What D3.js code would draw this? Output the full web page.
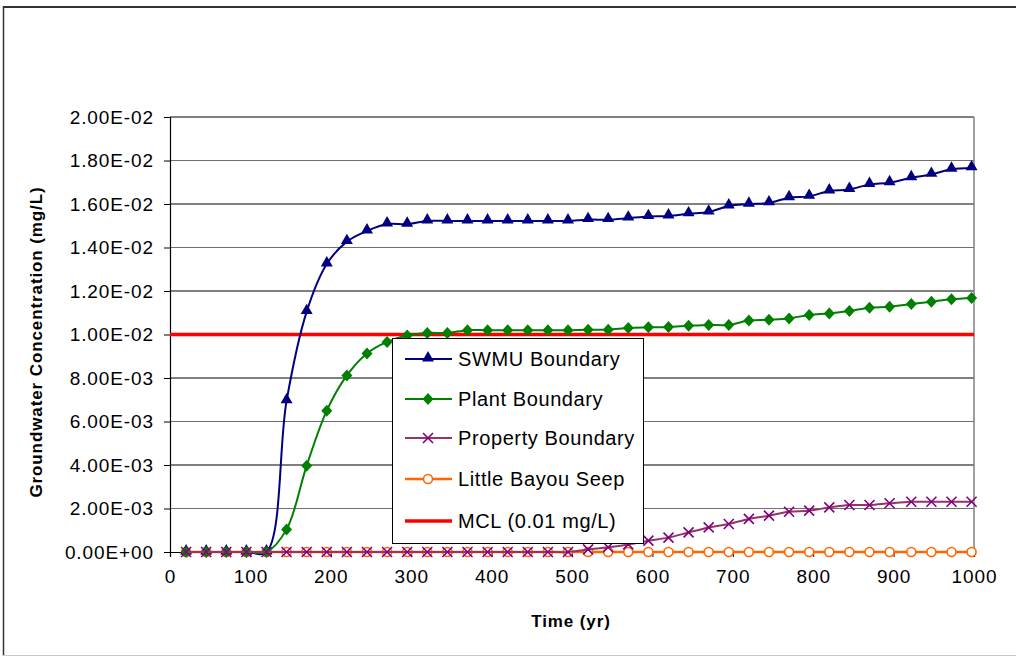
<!DOCTYPE html>
<html><head><meta charset="utf-8">
<script src="https://cdn.jsdelivr.net/npm/d3@7/dist/d3.min.js"></script>
<style>body{margin:0;background:#fff}svg{display:block;font-family:"Liberation Sans",Arial,sans-serif}</style>
</head><body>
<svg id="c" width="1016" height="656"></svg>
<script>
const times = [20,45,70,95,120,145,170,195,220,245,270,295,320,345,370,395,420,445,470,495,
  520,545,570,595,620,645,670,695,720,745,770,795,820,845,870,895,922,947,972,997];
const swmu = [0,0,0,0,0,6.95,11.05,13.24,14.27,14.76,15.08,15.07,15.22,15.22,15.22,15.22,15.22,15.22,15.22,15.22,
  15.28,15.28,15.35,15.42,15.45,15.55,15.63,15.91,15.99,16.05,16.29,16.35,16.6,16.67,16.9,16.98,17.21,17.36,17.6,17.66].map(v=>v*1e-3);
const plant = [0,0,0,0,0,1.04,3.97,6.5,8.12,9.13,9.66,9.95,10.07,10.07,10.2,10.2,10.2,10.2,10.2,10.2,
  10.22,10.22,10.3,10.33,10.35,10.4,10.44,10.44,10.64,10.68,10.74,10.9,10.97,11.08,11.23,11.28,11.4,11.51,11.62,11.68].map(v=>v*1e-3);
const property = [0,0,0,0,0,0,0,0,0,0,0,0,0,0,0,0,0,0,0,0,
  0.12,0.22,0.35,0.52,0.66,0.9,1.13,1.29,1.52,1.67,1.85,1.9,2.05,2.16,2.16,2.24,2.31,2.31,2.31,2.31].map(v=>v*1e-3);
const seep = times.map(()=>0);
const mclTimes = [0,1000];
const mclValues = [0.01,0.01];
const seriesNames = ["SWMU Boundary","Plant Boundary","Property Boundary","Little Bayou Seep","MCL (0.01 mg/L)"];
const xTicks = [0,100,200,300,400,500,600,700,800,900,1000];
const yTicks = [0,0.002,0.004,0.006,0.008,0.010,0.012,0.014,0.016,0.018,0.020];
const xTitle = "Time (yr)";
const yTitle = "Groundwater Concentration (mg/L)";

const svg = d3.select("#c");
const L=170, R=974, T=117, B=552;
const x = d3.scaleLinear().domain([0,1000]).range([L,R]);
const y = d3.scaleLinear().domain([0,0.02]).range([B,T]);

// chart area border
svg.append("line").attr("x1",3).attr("x2",1016).attr("y1",7).attr("y2",7).attr("stroke","#333").attr("stroke-width",2);
svg.append("line").attr("x1",3.5).attr("x2",3.5).attr("y1",6).attr("y2",656).attr("stroke","#333").attr("stroke-width",1.5);
svg.append("line").attr("x1",3).attr("x2",1016).attr("y1",655.5).attr("y2",655.5).attr("stroke","#c8c8c8").attr("stroke-width",1);

// gridlines
svg.append("g").selectAll("line").data(yTicks.slice(1)).join("line")
  .attr("x1",L).attr("x2",R).attr("y1",d=>y(d)).attr("y2",d=>y(d))
  .attr("stroke",(d,i)=> i%2===0 ? "#707070" : "#000").attr("stroke-width",1);
// right border
svg.append("line").attr("x1",R).attr("x2",R).attr("y1",T).attr("y2",B).attr("stroke","#808080").attr("stroke-width",1.5);

// axes
const fmt = v => {
  let s = v.toExponential(2);
  let [m,e] = s.split("e");
  const sign = e[0]==="-" ? "-" : "+";
  e = e.replace(/[+-]/,"");
  if (e.length<2) e = "0"+e;
  return m+"E"+sign+e;
};
const yAxis = svg.append("g").attr("transform",`translate(${L},0)`)
  .call(d3.axisLeft(y).tickValues(yTicks).tickFormat(fmt).tickSize(6).tickPadding(10));
const xAxis = svg.append("g").attr("transform",`translate(0,${B})`)
  .call(d3.axisBottom(x).tickValues(xTicks).tickFormat(d3.format("d")).tickSize(5).tickPadding(13));
[yAxis,xAxis].forEach(a=>{
  a.select(".domain").attr("stroke","#000").attr("stroke-width",1.2);
  a.selectAll(".tick line").attr("stroke","#000");
  a.selectAll("text").attr("font-size",19).attr("fill","#000").style("letter-spacing","0.9px")
   .attr("font-family","'Liberation Sans',Arial,sans-serif");
});

// titles
svg.append("text").attr("x",571).attr("y",627).attr("text-anchor","middle")
  .attr("font-size",17).attr("font-weight","bold").style("letter-spacing","0.9px").text(xTitle);
svg.append("text").attr("transform","translate(42,342) rotate(-90)").attr("text-anchor","middle")
  .attr("font-size",17).attr("font-weight","bold").style("letter-spacing","0.9px").text(yTitle);

const line = d3.line().x(d=>x(d[0])).y(d=>y(d[1])).curve(d3.curveCatmullRom.alpha(0.5));
const zip = (ts,vs)=>ts.map((t,i)=>[t,vs[i]]);

// MCL line
svg.append("path").datum(zip(mclTimes,mclValues)).attr("d",d3.line().x(d=>x(d[0])).y(d=>y(d[1])))
  .attr("fill","none").attr("stroke","#ff0000").attr("stroke-width",3.5);

const triangle = d3.symbol().type(d3.symbolTriangle).size(62)();
const diamond = d => `M0,-6L5.5,0L0,6L-5.5,0Z`;
const cross = `M-5,-5L5,5M-5,5L5,-5`;

function drawSeries(vals, color, lineColor, width, markerFn){
  const g = svg.append("g");
  g.append("path").datum(zip(times,vals)).attr("d",line).attr("fill","none")
    .attr("stroke",lineColor).attr("stroke-width",width);
  const m = g.selectAll("g.m").data(zip(times,vals)).join("g")
    .attr("transform",d=>`translate(${x(d[0])},${y(d[1])})`);
  markerFn(m, color);
}
// seep
drawSeries(seep,"#ff6600","#ff6600",2.5,(m,c)=>m.append("circle").attr("r",4.5).attr("fill","#fff").attr("stroke",c).attr("stroke-width",1.6));
// swmu
drawSeries(swmu,"#000080","#000080",2,(m,c)=>m.append("path").attr("d",triangle).attr("transform","translate(0,-1)").attr("fill",c));
// plant
drawSeries(plant,"#008000","#008000",2,(m,c)=>m.append("path").attr("d",diamond()).attr("fill",c));
// property
drawSeries(property,"#800080","#993366",2,(m,c)=>m.append("path").attr("d",cross).attr("stroke",c).attr("stroke-width",1.6).attr("fill","none"));

// legend
const lg = svg.append("g");
lg.append("rect").attr("x",392.5).attr("y",338.5).attr("width",251).attr("height",205)
  .attr("fill","#fff").attr("stroke","#000").attr("stroke-width",1);
const legendRows = [
  {name:seriesNames[0], color:"#000080", line:"#000080", w:2, mk:"tri"},
  {name:seriesNames[1], color:"#008000", line:"#008000", w:2, mk:"dia"},
  {name:seriesNames[2], color:"#800080", line:"#993366", w:2, mk:"x"},
  {name:seriesNames[3], color:"#ff6600", line:"#ff6600", w:2.5, mk:"o"},
  {name:seriesNames[4], color:"#ff0000", line:"#ff0000", w:3.5, mk:null}
];
const rowY = [359,399,438,479,521];
legendRows.forEach((r,i)=>{
  const g = lg.append("g").attr("transform",`translate(0,${rowY[i]})`);
  g.append("line").attr("x1",405).attr("x2",452).attr("y1",0).attr("y2",0).attr("stroke",r.line).attr("stroke-width",r.w);
  const mg = g.append("g").attr("transform","translate(428,0)");
  if(r.mk==="tri") mg.append("path").attr("d",triangle).attr("transform","translate(0,-1)").attr("fill",r.color);
  if(r.mk==="dia") mg.append("path").attr("d",diamond()).attr("fill",r.color);
  if(r.mk==="x") mg.append("path").attr("d",cross).attr("stroke",r.color).attr("stroke-width",1.6);
  if(r.mk==="o") mg.append("circle").attr("r",4.5).attr("fill","#fff").attr("stroke",r.color).attr("stroke-width",1.6);
  g.append("text").attr("x",458).attr("y",0).attr("dy","0.36em").attr("font-size",20)
    .style("letter-spacing","0.6px").attr("fill","#000").text(r.name);
});
</script>
</body></html>
